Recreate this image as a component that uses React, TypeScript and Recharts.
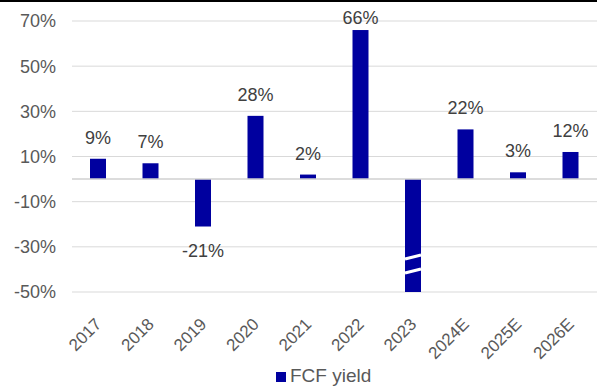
import {
  BarChart,
  Bar,
  XAxis,
  YAxis,
  CartesianGrid,
  Legend,
  LabelList,
  ReferenceLine,
} from "recharts";

const years = ["2017", "2018", "2019", "2020", "2021", "2022", "2023", "2024E", "2025E", "2026E"];
// 2023 runs past the bottom of the axis, the chart cuts it off with a break mark
const fcfYield = [9, 7, -21, 28, 2, 66, -50, 22, 3, 12];
const brokenYears = ["2023"];
const yTicks = [-50, -30, -10, 10, 30, 50, 70];

const data = years.map((year, i) => ({ year, fcf: fcfYield[i] }));

const FONT = '"Liberation Sans", Arial, sans-serif';
const BLUE = "#00009f";

const BarShape = (props: any) => {
  const { x, y, width, height, payload } = props;
  const top = Math.min(y, y + height);
  const h = Math.abs(height);
  const bottom = top + h;
  const broken = brokenYears.includes(payload.year);
  return (
    <g>
      <rect x={x} y={top} width={width} height={h} fill={BLUE} />
      {broken && (
        <>
          <line x1={x} y1={bottom - 33} x2={x + width} y2={bottom - 37} stroke="#fff" strokeWidth={3} />
          <line x1={x} y1={bottom - 19} x2={x + width} y2={bottom - 23} stroke="#fff" strokeWidth={3} />
        </>
      )}
    </g>
  );
};

const ValueLabel = (props: any) => {
  const { x, y, width, height, value, index } = props;
  if (brokenYears.includes(years[index])) return null;
  const cx = x + width / 2;
  const top = Math.min(y, y + height);
  const bottom = top + Math.abs(height);
  const ty = value >= 0 ? Math.max(top - 15, 24) : bottom + 30;
  return (
    <text x={cx} y={ty} textAnchor="middle" fontSize={18} fill="#404040" fontFamily={FONT}>
      {`${value}%`}
    </text>
  );
};

const YearTick = (props: any) => {
  const { x, y, payload } = props;
  return (
    <g transform={`translate(${x},${y + 21})`}>
      <text
        transform="rotate(-45)"
        textAnchor="end"
        dy="0.35em"
        fontSize={17}
        fill="#595959"
        fontFamily={FONT}
      >
        {payload.value}
      </text>
    </g>
  );
};

export default function App() {
  return (
    <div style={{ position: "fixed", top: 0, left: 0, width: 597, height: 387, background: "#fff" }}>
      <div style={{ position: "absolute", top: 0, left: 0, width: 597, height: 2, background: "#000" }} />
      <BarChart
        width={597}
        height={387}
        data={data}
        margin={{ top: 21, right: 0, bottom: 0, left: 0 }}
        barSize={16}
        style={{ fontFamily: FONT }}
      >
        <CartesianGrid vertical={false} stroke="#d9d9d9" />
        <XAxis
          dataKey="year"
          axisLine={false}
          tickLine={false}
          interval={0}
          height={73}
          tick={<YearTick />}
        />
        <YAxis
          width={72}
          domain={[-50, 70]}
          ticks={yTicks}
          allowDataOverflow
          axisLine={false}
          tickLine={false}
          tickMargin={10}
          tickFormatter={(v) => `${v}%`}
          tick={{ fontSize: 18, fill: "#595959", fontFamily: FONT }}
        />
        <ReferenceLine y={0} stroke="#d0d0d0" strokeWidth={1.5} />
        <Legend
          verticalAlign="bottom"
          iconType="square"
          iconSize={10}
          wrapperStyle={{ left: 276, width: "auto", textAlign: "left", fontSize: 19, color: "#595959" }}
          formatter={(v) => <span style={{ color: "#595959" }}>{v}</span>}
        />
        <Bar dataKey="fcf" name="FCF yield" fill={BLUE} shape={<BarShape />} isAnimationActive={false}>
          <LabelList dataKey="fcf" content={<ValueLabel />} />
        </Bar>
      </BarChart>
    </div>
  );
}
